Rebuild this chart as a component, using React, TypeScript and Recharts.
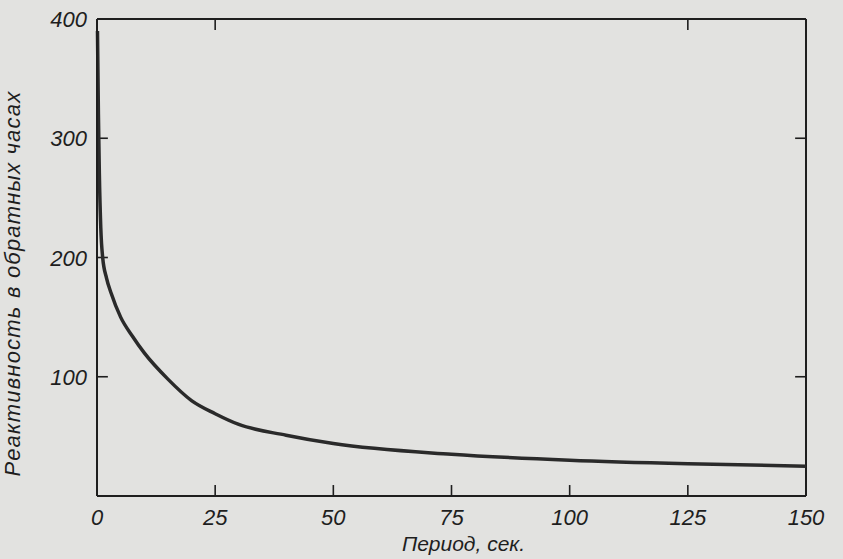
import { Label, Line, LineChart, ReferenceLine, XAxis, YAxis } from "recharts"

// Period, seconds
const periods = [0.1, 0.3, 0.5, 0.8, 1.2, 2, 3, 5, 7.5, 10, 15, 20, 25, 30, 40, 50, 75, 100, 125, 150]
// Reactivity, inverse hours
const reactivity = [390, 320, 270, 225, 200, 183, 170, 150, 134, 120, 98, 80, 69, 60, 51, 44, 35, 30, 27, 25]

const xTicks = [0, 25, 50, 75, 100, 125, 150]
const yTicks = [100, 200, 300, 400]
// inner tick marks drawn along the frame
const bottomMarks = [25, 50, 75, 100, 125]
const leftMarks = [100, 200, 300]
const topMarks = [25, 125]
const rightMarks = [100, 300]

const data = periods.map((p, i) => ({ period: p, value: reactivity[i] }))

const ink = "#1e1e1e"
const font = "'Liberation Sans', Arial, sans-serif"
const xMark = 9.2 // tick length in y units (~11px)
const yMark = 2.3 // tick length in x units (~11px)

// each inner tick as a tiny two-point segment
const marks = [
  ...bottomMarks.map((t) => [{ period: t, value: 0 }, { period: t, value: xMark }]),
  ...topMarks.map((t) => [{ period: t, value: 400 }, { period: t, value: 400 - xMark }]),
  ...leftMarks.map((t) => [{ period: 0, value: t }, { period: yMark, value: t }]),
  ...rightMarks.map((t) => [{ period: 150, value: t }, { period: 150 - yMark, value: t }]),
]

const BottomTick = (props: any) => {
  const { x, y, payload } = props
  return (
    <text x={x} y={y + 29} textAnchor="middle" fontSize={22} fontStyle="italic" fontFamily={font} fill={ink}>
      {payload.value}
    </text>
  )
}

const LeftTick = (props: any) => {
  const { x, y, payload } = props
  return (
    <text x={x - 10} y={y + 8} textAnchor="end" fontSize={22} fontStyle="italic" fontFamily={font} fill={ink}>
      {payload.value}
    </text>
  )
}

export default function App() {
  return (
    <div style={{ position: "absolute", left: 0, top: 0, width: 843, height: 559, background: "#e2e2e0" }}>
      <LineChart width={843} height={559} margin={{ top: 19, right: 37, bottom: 0, left: 0 }}>
        <XAxis
          xAxisId="bottom"
          dataKey="period"
          type="number"
          domain={[0, 150]}
          ticks={xTicks}
          height={63}
          tickSize={0}
          tickMargin={0}
          tickLine={false}
          tick={<BottomTick />}
          axisLine={{ stroke: ink, strokeWidth: 2 }}
          interval={0}
          allowDuplicatedCategory={false}
        >
          <Label
            value="Период, сек."
            position="insideBottom"
            offset={8}
            dx={12}
            style={{ fontSize: 21, fontStyle: "italic", fontFamily: font, fill: ink }}
          />
        </XAxis>
        <YAxis
          yAxisId="left"
          type="number"
          domain={[0, 400]}
          ticks={yTicks}
          width={97}
          tickSize={0}
          tickMargin={0}
          tickLine={false}
          tick={<LeftTick />}
          axisLine={{ stroke: ink, strokeWidth: 2 }}
          interval={0}
        >
          <Label
            value="Реактивность в обратных часах"
            angle={-90}
            position="insideLeft"
            offset={12}
            dy={26}
            style={{ fontSize: 22, fontStyle: "italic", fontFamily: font, fill: ink, letterSpacing: 1.2, textAnchor: "middle" }}
          />
        </YAxis>
        {/* top and right sides of the frame */}
        <ReferenceLine xAxisId="bottom" yAxisId="left" y={400} stroke={ink} strokeWidth={2} ifOverflow="visible" />
        <ReferenceLine xAxisId="bottom" yAxisId="left" x={150} stroke={ink} strokeWidth={2} ifOverflow="visible" />
        {marks.map((m, i) => (
          <Line
            key={`mark${i}`}
            xAxisId="bottom"
            yAxisId="left"
            data={m}
            type="linear"
            dataKey="value"
            stroke={ink}
            strokeWidth={1.6}
            dot={false}
            activeDot={false}
            legendType="none"
            isAnimationActive={false}
          />
        ))}
        <Line
          xAxisId="bottom"
          yAxisId="left"
          data={data}
          type="monotone"
          dataKey="value"
          stroke="#2a2a2a"
          strokeWidth={3.5}
          dot={false}
          isAnimationActive={false}
        />
      </LineChart>
    </div>
  )
}
